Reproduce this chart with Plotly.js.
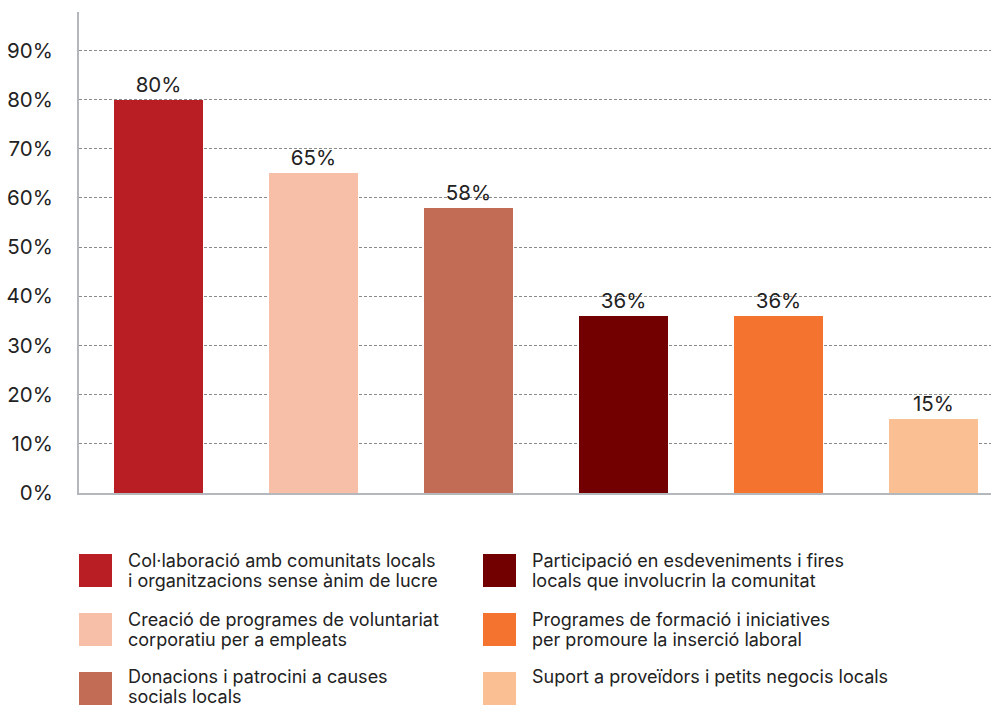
<!DOCTYPE html>
<html><head><meta charset="utf-8">
<script src="https://cdn.plot.ly/plotly-3.0.1.min.js"></script>
<style>body{margin:0;background:#fff}#chart{width:991px;height:708px}</style>
</head><body><div id="chart"></div>
<script>
const categories = [
  "Col·laboració amb comunitats locals<br>i organitzacions sense ànim de lucre",
  "Creació de programes de voluntariat<br>corporatiu per a empleats",
  "Donacions i patrocini a causes<br>socials locals",
  "Participació en esdeveniments i fires<br>locals que involucrin la comunitat",
  "Programes de formació i iniciatives<br>per promoure la inserció laboral",
  "Suport a proveïdors i petits negocis locals"
];
const values = [80, 65, 58, 36, 36, 15];
const colors = ["#B81E23", "#F8BFA8", "#C36C55", "#730000", "#F3732F", "#FBBF94"];
const tickVals = [0,10,20,30,40,50,60,70,80,90];
const tickText = ["0%","10%","20%","30%","40%","50%","60%","70%","80%","90%"];

const W = 991, H = 708;
const PT = 12, PB = 493; // plot top / bottom in px
const xIdx = categories.map((c,i)=>i);
const traces = [{
  type: 'bar',
  x: xIdx,
  y: values,
  marker: {color: colors},
  width: 0.574,
  text: values.map(v=>v+'%'),
  textposition: 'outside',
  textfont: {family: 'Inter, sans-serif', size: 20.5, color: '#222'},
  cliponaxis: false,
  hoverinfo: 'skip',
  showlegend: false
}];

// legend built from categories/colors
const shapes = [], annotations = [];
const colX = [79, 483], rowY = [554, 613, 672], sw = 33;
const px2y = p => (PB - p) / (PB - PT);
const px2x = p => (p - 79) / (W - 79);
categories.forEach((c,i)=>{
  const col = Math.floor(i/3), row = i%3;
  const x0 = colX[col], y0 = rowY[row];
  shapes.push({type:'rect', xref:'paper', yref:'paper',
    x0: px2x(x0), x1: px2x(x0+sw), y0: px2y(y0+sw), y1: px2y(y0),
    fillcolor: colors[i], line:{width:0}, layer:'above'});
  const lines = c.split('<br>');
  const baseY = y0 + 6 - (row === 2 ? 2 : 0);
  lines.forEach((ln, k)=>{
    annotations.push({xref:'paper', yref:'paper', xanchor:'left', yanchor:'middle',
      x: px2x(x0+sw+15), y: px2y(baseY + k*20.5),
      text: ln, showarrow:false, align:'left', borderpad: 0,
      font:{family:'Inter, sans-serif', size:18, color:'#222'}});
  });
});

const layout = {
  width: W, height: H,
  margin: {l: 79, r: 0, t: PT, b: H-PB},
  paper_bgcolor: '#fff', plot_bgcolor: '#fff',
  bargap: 0,
  xaxis: {range: [-0.513, 5.371], showticklabels: false, showgrid: false, zeroline: false,
    showline: true, linecolor: '#b4b8bc', linewidth: 2, ticks: '', fixedrange: true},
  yaxis: {range: [0, 97.8], tickvals: tickVals, ticktext: tickText,
    tickfont: {family: 'Inter, sans-serif', size: 20.5, color: '#222'},
    showgrid: true, gridcolor: '#8a8a8a', gridwidth: 1, griddash: '3px,2px',
    zeroline: false, showline: true, linecolor: '#b4b8bc', linewidth: 2,
    ticks: '', ticklabelstandoff: 20},
  shapes: shapes,
  annotations: annotations,
  showlegend: false
};
Plotly.newPlot('chart', traces, layout, {displayModeBar: false, staticPlot: true});
</script></body></html>
